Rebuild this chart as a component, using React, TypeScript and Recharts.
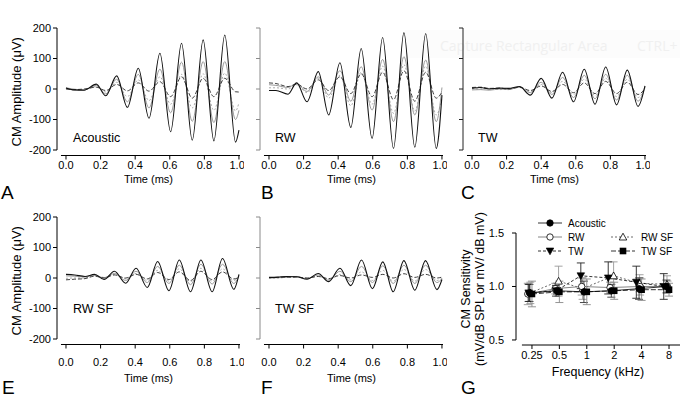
import React from "react";
import { LineChart, Line, XAxis, YAxis, ReferenceLine, ErrorBar, Label } from "recharts";

// CM waveforms (µV), four traces per panel
const timeA = [0, 0.04, 0.105, 0.175, 0.23, 0.293, 0.355, 0.418, 0.48, 0.543, 0.605, 0.668, 0.73, 0.793, 0.855, 0.918, 0.98, 1.0];
const acousticBlack = [3, -3, -4, 16, -22, 43, -60, 68, -96, 117, -140, 150, -168, 161, -170, 177, -174, -135];
const acousticGray = [4, 0, -3, 12, -16, 32, -42, 48, -62, 65, -78, 88, -106, 90, -110, 90, -100, -70];
const acousticGrayDash = [2, -2, -2, 8, -10, 22, -25, 30, -38, 40, -50, 48, -62, 50, -70, 52, -72, -45];
const acousticBlackDash = [0, -2, 0, 6, -5, 15, -6, 20, -7, 24, -25, 40, -30, 35, -25, 35, -9, -10];

const timeB = [0, 0.04, 0.11, 0.16, 0.22, 0.285, 0.345, 0.41, 0.473, 0.533, 0.596, 0.657, 0.72, 0.78, 0.843, 0.906, 0.967, 1.0];
const rwBlack = [-5, -5, -17, 20, -42, 57, -85, 86, -126, 133, -162, 169, -195, 185, -191, 182, -195, -20];
const rwGray = [14, 12, 5, 18, -8, 40, -20, 60, -40, 73, -69, 97, -107, 106, -85, 95, -107, 5];
const rwGrayDash = [4, 4, 0, 14, -12, 35, -30, 45, -55, 55, -50, 75, -80, 80, -72, 75, -85, -30];
const rwBlackDash = [20, 18, 8, 16, 0, 30, -5, 40, -15, 50, -25, 55, -35, 60, -40, 55, -30, -10];

const timeC = [0, 0.05, 0.1, 0.16, 0.21, 0.275, 0.337, 0.4, 0.462, 0.524, 0.587, 0.649, 0.711, 0.773, 0.836, 0.898, 0.96, 1.0];
const twBlack = [3, 5, 0, 3, 2, 8, -20, 35, -30, 55, -42, 65, -50, 72, -52, 62, -57, 10];
const twGray = [-3, -2, -4, 0, -2, 6, -12, 22, -18, 38, -28, 45, -32, 48, -36, 45, -40, 8];
const twGrayDash = [1, 0, 2, -2, 1, 5, -8, 15, -12, 25, -18, 32, -22, 35, -25, 32, -28, 5];
const twBlackDash = [5, 6, 2, 3, 0, 6, -5, 10, -8, 15, -12, 20, -15, 25, -15, 22, -18, 2];

const timeE = [0, 0.05, 0.11, 0.165, 0.22, 0.28, 0.345, 0.405, 0.47, 0.53, 0.595, 0.655, 0.72, 0.78, 0.845, 0.905, 0.97, 1.0];
const rwsfBlack = [12, 10, 5, 12, -5, 22, -17, 32, -31, 54, -42, 59, -45, 59, -45, 64, -37, 12];
const rwsfGray = [7, 6, 3, 10, 0, 15, -8, 22, -15, 38, -18, 42, -22, 45, -20, 45, -18, 8];
const rwsfGrayDash = [-1, 0, 0, 8, 2, 12, -3, 15, -8, 25, -10, 30, -12, 32, -10, 30, -8, 5];
const rwsfBlackDash = [-6, -4, -2, 6, 0, 10, 0, 12, -3, 18, -5, 20, -8, 22, -5, 20, -3, 2];

const timeF = [0, 0.05, 0.1, 0.16, 0.22, 0.285, 0.345, 0.41, 0.473, 0.535, 0.598, 0.658, 0.718, 0.78, 0.843, 0.905, 0.971, 1.0];
const twsfBlack = [2, 3, 5, 4, -4, 15, -12, 32, -25, 59, -35, 53, -45, 57, -40, 57, -38, -5];
const twsfGray = [0, 1, 2, 5, -2, 10, -8, 22, -12, 38, -15, 40, -18, 42, -18, 42, -15, -2];
const twsfGrayDash = [-1, 0, 2, 3, -1, 6, -5, 12, -6, 20, -8, 25, -10, 28, -10, 28, -8, 0];
const twsfBlackDash = [1, 2, 3, 3, 0, 5, -2, 8, 0, 10, 2, 12, 0, 14, 2, 12, 0, 3];

const timeTicks = [0, 0.2, 0.4, 0.6, 0.8, 1.0];
const ampTicks = [-200, -100, 0, 100, 200];

// panel G: CM sensitivity vs frequency (points are jittered sideways in the original)
const freqTicks = [0.25, 0.5, 1, 2, 4, 8];
const sensTicks = [0.5, 1.0, 1.5];
const acousticFreq = [0.235, 0.47, 0.93, 1.86, 3.75, 7.5];
const acousticSens = [0.94, 0.96, 0.95, 0.96, 0.98, 1.0];
const acousticErr = [0.08, 0.03, 0.1, 0.06, 0.1, 0.06];
const rwFreq = [0.225, 0.45, 0.88, 1.8, 3.85, 7.7];
const rwSens = [0.93, 0.98, 1.0, 0.99, 1.0, 1.0];
const rwErr = [0.1, 0.05, 0.08, 0.05, 0.08, 0.05];
const twFreq = [0.23, 0.46, 0.86, 1.72, 3.5, 7.0];
const twSens = [0.94, 0.96, 1.1, 1.08, 1.04, 1.0];
const twErr = [0.08, 0.05, 0.12, 0.15, 0.15, 0.12];
const rwsfFreq = [0.24, 0.49, 0.9, 1.97, 3.8, 7.6];
const rwsfSens = [0.94, 1.05, 0.98, 1.1, 1.03, 1.02];
const rwsfErr = [0.1, 0.14, 0.1, 0.13, 0.08, 0.08];
const twsfFreq = [0.25, 0.5, 1.0, 2.0, 4.0, 8.0];
const twsfSens = [0.93, 0.95, 0.95, 0.96, 0.97, 0.97];
const twsfErr = [0.12, 0.1, 0.12, 0.08, 0.1, 0.06];

const FONT = "'Liberation Sans', Arial, Helvetica, sans-serif";
const T_MIN = -0.052;
const T_MAX = 1.006;
const A_MIN = -218;

const traceStyles = [
  { key: "s2", color: "#a0a0a0", dash: "2 2", width: 0.9 },
  { key: "s1", color: "#8f8f8f", dash: undefined, width: 0.9 },
  { key: "s3", color: "#2a2a2a", dash: "4 2", width: 0.9 },
  { key: "s0", color: "#111111", dash: undefined, width: 1.1 }
];

function zipTraces(time: number[], traces: number[][]) {
  return time.map((t, i) => ({ t, s0: traces[0][i], s1: traces[1][i], s2: traces[2][i], s3: traces[3][i] }));
}

function zipSens(freq: number[], sens: number[], err: number[]) {
  return freq.map((f, i) => ({ f, v: sens[i], e: err[i] }));
}

type WaveProps = {
  left: number;
  top: number;
  time: number[];
  traces: number[][];
  showYLabels: boolean;
  yAxisColor: string;
  tickGap: number;
  titleOffset: number;
};

function WavePanel({ left, top, time, traces, showYLabels, yAxisColor, tickGap, titleOffset }: WaveProps) {
  const rows = zipTraces(time, traces);
  return (
    <div style={{ position: "absolute", left, top }}>
      <LineChart width={244} height={200} data={rows} margin={{ top: 28, right: 4, bottom: 4.5, left: 0 }}>
        <XAxis
          dataKey="t"
          type="number"
          domain={[T_MIN, T_MAX]}
          ticks={timeTicks}
          tickFormatter={(v: number) => v.toFixed(1)}
          axisLine={false}
          stroke="#000"
          tickSize={4}
          tickMargin={tickGap}
          height={40}
          tick={{ fontSize: 11, fill: "#000", fontFamily: FONT }}
          allowDataOverflow
        >
          <Label value="Time (ms)" position="insideBottom" offset={titleOffset} style={{ fontSize: 11, fill: "#000", fontFamily: FONT }} />
        </XAxis>
        <YAxis
          type="number"
          domain={[A_MIN, 200]}
          ticks={ampTicks}
          width={57}
          axisLine={false}
          stroke={yAxisColor}
          tickSize={4}
          tickMargin={2}
          tickFormatter={(v: number) => (showYLabels ? String(v) : "")}
          tick={{ fontSize: 11, fill: "#000", fontFamily: FONT }}
          allowDataOverflow
        >
          {showYLabels && (
            <Label
              value="CM Amplitude (μV)"
              angle={-90}
              position="insideLeft"
              offset={16}
              style={{ fontSize: 13, fill: "#000", fontFamily: FONT, textAnchor: "middle" }}
            />
          )}
        </YAxis>
        <ReferenceLine segment={[{ x: T_MIN, y: -200 }, { x: T_MIN, y: 200 }]} stroke={yAxisColor} strokeWidth={1} ifOverflow="visible" />
        <ReferenceLine segment={[{ x: -0.029, y: A_MIN }, { x: T_MAX, y: A_MIN }]} stroke="#000" strokeWidth={1} ifOverflow="visible" />
        {traceStyles.map((s) => (
          <Line
            key={s.key}
            dataKey={s.key}
            type="monotone"
            stroke={s.color}
            strokeWidth={s.width}
            strokeDasharray={s.dash}
            dot={false}
            activeDot={false}
            isAnimationActive={false}
          />
        ))}
      </LineChart>
    </div>
  );
}

type MarkerKind = "dot" | "ring" | "down" | "up" | "square";

function Marker({ kind, cx, cy }: { kind: MarkerKind; cx: number; cy: number }) {
  if (kind === "dot") return <circle cx={cx} cy={cy} r={3.2} fill="#000" stroke="#000" strokeWidth={0.8} />;
  if (kind === "ring") return <circle cx={cx} cy={cy} r={3.2} fill="#fff" stroke="#000" strokeWidth={0.8} />;
  if (kind === "down")
    return <polygon points={`${cx - 3.8},${cy - 3} ${cx + 3.8},${cy - 3} ${cx},${cy + 3.8}`} fill="#000" stroke="#000" strokeWidth={0.6} />;
  if (kind === "up")
    return <polygon points={`${cx - 3.8},${cy + 3} ${cx + 3.8},${cy + 3} ${cx},${cy - 3.8}`} fill="#fff" stroke="#000" strokeWidth={0.8} />;
  return <rect x={cx - 3.3} y={cy - 3.3} width={6.6} height={6.6} fill="#000" />;
}

const sensSeries = [
  { name: "RW SF", kind: "up" as MarkerKind, data: zipSens(rwsfFreq, rwsfSens, rwsfErr), color: "#444", dash: "2 2", err: "#999" },
  { name: "RW", kind: "ring" as MarkerKind, data: zipSens(rwFreq, rwSens, rwErr), color: "#666", dash: undefined, err: "#999" },
  { name: "Acoustic", kind: "dot" as MarkerKind, data: zipSens(acousticFreq, acousticSens, acousticErr), color: "#000", dash: undefined, err: "#333" },
  { name: "TW", kind: "down" as MarkerKind, data: zipSens(twFreq, twSens, twErr), color: "#000", dash: "3 2", err: "#222" },
  { name: "TW SF", kind: "square" as MarkerKind, data: zipSens(twsfFreq, twsfSens, twsfErr), color: "#000", dash: "5 2", err: "#888" }
];

function SensitivityPanel() {
  return (
    <div style={{ position: "absolute", left: 450, top: 200 }}>
      <LineChart width={230} height={198} margin={{ top: 33, right: 0, bottom: 18, left: 0 }}>
        <XAxis
          dataKey="f"
          type="number"
          scale="log"
          domain={[0.167, 10.56]}
          ticks={freqTicks}
          tickFormatter={(v: number) => String(v)}
          axisLine={false}
          stroke="#000"
          tickSize={4}
          tickMargin={2}
          height={35}
          tick={{ fontSize: 11, fill: "#000", fontFamily: FONT }}
          allowDataOverflow
        >
          <Label value="Frequency (kHz)" position="insideBottom" offset={4} style={{ fontSize: 12.5, fill: "#000", fontFamily: FONT }} />
        </XAxis>
        <YAxis
          type="number"
          domain={[0.453, 1.5]}
          ticks={sensTicks}
          width={66}
          axisLine={false}
          stroke="#000"
          tickSize={4}
          tickMargin={8}
          tickFormatter={(v: number) => v.toFixed(1)}
          tick={{ fontSize: 11, fill: "#000", fontFamily: FONT }}
          allowDataOverflow
        >
          <Label value="CM Sensitivity" angle={-90} position="insideLeft" offset={16}
            style={{ fontSize: 12.5, fill: "#000", fontFamily: FONT, textAnchor: "middle" }} />
          <Label value="(mV/dB SPL or mV/ dB mV)" angle={-90} position="insideLeft" offset={30}
            style={{ fontSize: 12.5, fill: "#000", fontFamily: FONT, textAnchor: "middle" }} />
        </YAxis>
        <ReferenceLine segment={[{ x: 0.167, y: 0.5 }, { x: 0.167, y: 1.5 }]} stroke="#000" ifOverflow="visible" />
        <ReferenceLine segment={[{ x: 0.194, y: 0.453 }, { x: 10.56, y: 0.453 }]} stroke="#000" ifOverflow="visible" />
        {sensSeries.map((s) => (
          <Line
            key={s.name}
            data={s.data}
            dataKey="v"
            type="linear"
            stroke={s.color}
            strokeWidth={0.8}
            strokeDasharray={s.dash}
            dot={(p: any) => <Marker key={`${s.name}-${p.index}`} kind={s.kind} cx={p.cx} cy={p.cy} />}
            activeDot={false}
            isAnimationActive={false}
          >
            <ErrorBar dataKey="e" direction="y" width={4} stroke={s.err} strokeWidth={0.9} />
          </Line>
        ))}
      </LineChart>
    </div>
  );
}

const legendRows = [
  { name: "Acoustic", kind: "dot" as MarkerKind, dash: undefined, color: "#000", x: 538, y: 223 },
  { name: "RW", kind: "ring" as MarkerKind, dash: undefined, color: "#666", x: 538, y: 237 },
  { name: "TW", kind: "down" as MarkerKind, dash: "3 2", color: "#000", x: 538, y: 251 },
  { name: "RW SF", kind: "up" as MarkerKind, dash: "2 2", color: "#444", x: 611, y: 237 },
  { name: "TW SF", kind: "square" as MarkerKind, dash: "5 2", color: "#000", x: 611, y: 251 }
];

const panelTags = [
  { text: "Acoustic", x: 73, y: 141.5 },
  { text: "RW", x: 275, y: 141.5 },
  { text: "TW", x: 478, y: 141.5 },
  { text: "RW SF", x: 73, y: 312.5 },
  { text: "TW SF", x: 275, y: 312.5 }
];

const panelLetters = [
  { text: "A", x: 1, y: 199 },
  { text: "B", x: 261, y: 199 },
  { text: "C", x: 461, y: 199 },
  { text: "E", x: 2, y: 394 },
  { text: "F", x: 261, y: 394 },
  { text: "G", x: 461, y: 394 }
];

export default function App() {
  return (
    <div style={{ position: "relative", width: 680, height: 398, background: "#fff", overflow: "hidden", fontFamily: FONT }}>
      <style>{"body{margin:0;background:#fff}"}</style>
      <svg width={680} height={398} style={{ position: "absolute", left: 0, top: 0 }}>
        <rect x={405} y={30} width={275} height={28} fill="#fcfcfc" />
        <text x={440} y={51} fontSize={14} fill="#f0f0f0" fontFamily="'Open Sans', sans-serif">Capture Rectangular Area</text>
        <text x={637} y={51} fontSize={14} fill="#f0f0f0" fontFamily="'Open Sans', sans-serif">CTRL+</text>
      </svg>
      <WavePanel left={0} top={0} time={timeA} traces={[acousticBlack, acousticGray, acousticGrayDash, acousticBlackDash]}
        showYLabels yAxisColor="#000" tickGap={2} titleOffset={12.5} />
      <WavePanel left={203} top={0} time={timeB} traces={[rwBlack, rwGray, rwGrayDash, rwBlackDash]}
        showYLabels={false} yAxisColor="#8a8a8a" tickGap={2} titleOffset={12.5} />
      <WavePanel left={406} top={0} time={timeC} traces={[twBlack, twGray, twGrayDash, twBlackDash]}
        showYLabels={false} yAxisColor="#222" tickGap={2} titleOffset={12.5} />
      <WavePanel left={0} top={189} time={timeE} traces={[rwsfBlack, rwsfGray, rwsfGrayDash, rwsfBlackDash]}
        showYLabels yAxisColor="#000" tickGap={10} titleOffset={2.5} />
      <WavePanel left={203} top={189} time={timeF} traces={[twsfBlack, twsfGray, twsfGrayDash, twsfBlackDash]}
        showYLabels={false} yAxisColor="#8a8a8a" tickGap={10} titleOffset={2.5} />
      <SensitivityPanel />
      <svg width={680} height={398} style={{ position: "absolute", left: 0, top: 0, pointerEvents: "none" }}>
        {legendRows.map((r) => (
          <g key={r.name}>
            <line x1={r.x} x2={r.x + 24} y1={r.y} y2={r.y} stroke={r.color} strokeWidth={0.8} strokeDasharray={r.dash} />
            <Marker kind={r.kind} cx={r.x + 12} cy={r.y} />
            <text x={r.x + 30} y={r.y + 3.6} fontSize={10} fill="#000" fontFamily={FONT}>{r.name}</text>
          </g>
        ))}
        {panelTags.map((p) => (
          <text key={p.text} x={p.x} y={p.y} fontSize={12.5} fill="#000" fontFamily={FONT}>{p.text}</text>
        ))}
        {panelLetters.map((p) => (
          <text key={p.text} x={p.x} y={p.y} fontSize={19} fill="#000" fontFamily={FONT}>{p.text}</text>
        ))}
      </svg>
    </div>
  );
}
